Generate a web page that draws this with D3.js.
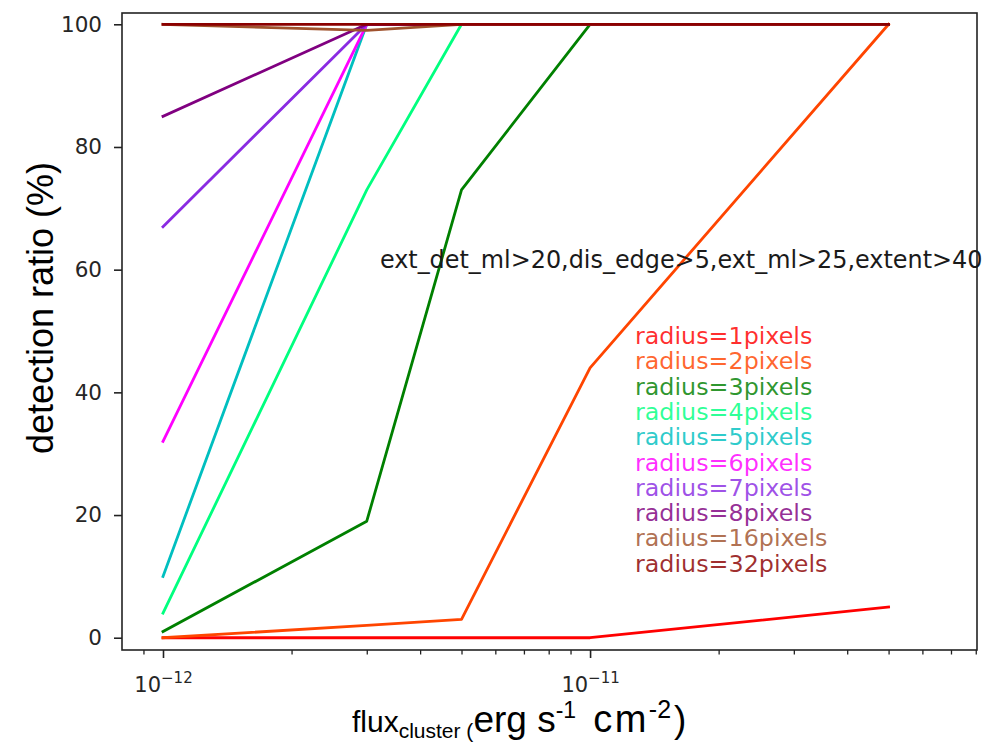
<!DOCTYPE html>
<html>
<head>
<meta charset="utf-8">
<script src="https://cdn.jsdelivr.net/npm/d3@7"></script>
<style>
  html, body { margin: 0; padding: 0; background: #fff; }
  svg { display: block; }
</style>
</head>
<body>
<svg id="chart" width="990" height="746"></svg>
<script>
// Cluster flux values (erg s^-1 cm^-2) at which detection was tested
const fluxValues = [1e-12, 3e-12, 5e-12, 1e-11, 5e-11];

// Detection ratio (%) for each extraction radius
const ratioR1  = [0, 0, 0, 0, 5];
const ratioR2  = [0, 2, 3, 44, 100];
const ratioR3  = [1, 19, 73, 100, 100];
const ratioR4  = [4, 73, 100, 100, 100];
const ratioR5  = [10, 100, 100, 100, 100];
const ratioR6  = [32, 100, 100, 100, 100];
const ratioR7  = [67, 100, 100, 100, 100];
const ratioR8  = [85, 100, 100, 100, 100];
const ratioR16 = [100, 99, 100, 100, 100];
const ratioR32 = [100, 100, 100, 100, 100];

const seriesLabels = ["radius=1pixels", "radius=2pixels", "radius=3pixels", "radius=4pixels",
  "radius=5pixels", "radius=6pixels", "radius=7pixels", "radius=8pixels",
  "radius=16pixels", "radius=32pixels"];
const seriesColors = ["#ff0000", "#ff4500", "#008000", "#00ff7f", "#00bfbf",
  "#ff00ff", "#8a2be2", "#800080", "#a0522d", "#8b0000"];

const yTickValues = [0, 20, 40, 60, 80, 100];
const xMajorTicks = [1e-12, 1e-11];
const xMajorExponents = ["\u221212", "\u221211"];
const annotationText = "ext_det_ml>20,dis_edge>5,ext_ml>25,extent>40";

const seriesValues = [ratioR1, ratioR2, ratioR3, ratioR4, ratioR5,
  ratioR6, ratioR7, ratioR8, ratioR16, ratioR32];

const series = seriesLabels.map((label, i) => ({
  label,
  color: seriesColors[i],
  points: fluxValues.map((f, j) => ({ flux: f, ratio: seriesValues[i][j] }))
}));

// Plot area
const plot = { left: 122, right: 977, top: 13, bottom: 650 };

const x = d3.scaleLog()
  .domain([Math.pow(10, -12.096), Math.pow(10, -10.094)])
  .range([plot.left, plot.right]);

const y = d3.scaleLinear()
  .domain([-2.0, 101.84])
  .range([plot.bottom, plot.top]);

const svg = d3.select("#chart");
const tickFont = "'DejaVu Sans', sans-serif";
const labelFont = "'Liberation Sans', Arial, sans-serif";

// Data lines
const line = d3.line().x(d => x(d.flux)).y(d => y(d.ratio));
svg.append("g").attr("class", "lines")
  .selectAll("path")
  .data(series)
  .join("path")
  .attr("d", d => line(d.points))
  .attr("fill", "none")
  .attr("stroke", d => d.color)
  .attr("stroke-width", 2.8)
  .attr("stroke-linejoin", "round")
  .attr("stroke-linecap", "square");

// Y axis
const yAxis = svg.append("g")
  .attr("transform", `translate(${plot.left},0)`)
  .call(d3.axisLeft(y).tickValues(yTickValues).tickSize(8).tickPadding(12));
yAxis.select(".domain").remove();
yAxis.selectAll(".tick line").attr("stroke", "#222").attr("stroke-width", 1.6);
yAxis.selectAll(".tick text")
  .attr("font-family", tickFont).attr("font-size", 21.5).attr("fill", "#262626");

// X axis: minor ticks
const xMinor = x.ticks().filter(v => {
  const e = Math.log10(v);
  return Math.abs(e - Math.round(e)) > 1e-6;
});
const xMinorAxis = svg.append("g")
  .attr("transform", `translate(0,${plot.bottom})`)
  .call(d3.axisBottom(x).tickValues(xMinor).tickSize(4.5).tickFormat(""));
xMinorAxis.select(".domain").remove();
xMinorAxis.selectAll(".tick line").attr("stroke", "#222").attr("stroke-width", 1.3);

// X axis: major ticks with power-of-ten labels
const xMajorAxis = svg.append("g")
  .attr("transform", `translate(0,${plot.bottom})`)
  .call(d3.axisBottom(x).tickValues(xMajorTicks).tickSize(8).tickFormat(""));
xMajorAxis.select(".domain").remove();
xMajorAxis.selectAll(".tick line").attr("stroke", "#222").attr("stroke-width", 1.6);
xMajorAxis.selectAll(".tick").each(function(d, i) {
  const t = d3.select(this).append("text")
    .attr("y", 42)
    .attr("text-anchor", "middle")
    .attr("font-family", tickFont)
    .attr("fill", "#262626");
  t.append("tspan").attr("font-size", 21).text("10");
  t.append("tspan").attr("font-size", 15).attr("dy", -9).text(xMajorExponents[i]);
});

// Frame
svg.append("rect")
  .attr("x", plot.left).attr("y", plot.top)
  .attr("width", plot.right - plot.left)
  .attr("height", plot.bottom - plot.top)
  .attr("fill", "none").attr("stroke", "#222").attr("stroke-width", 1.6);

// Selection criteria note
svg.append("text")
  .attr("x", x(3.22e-12)).attr("y", y(60.2))
  .attr("font-family", tickFont).attr("font-size", 23.9).attr("fill", "#1a1a1a")
  .text(annotationText);

// Legend text (coloured labels)
svg.append("g").attr("class", "legend")
  .selectAll("text")
  .data(series)
  .join("text")
  .attr("x", 635)
  .attr("y", (d, i) => 344 + i * 25.3)
  .attr("font-family", tickFont)
  .attr("font-size", 23.8)
  .attr("fill", d => d.color)
  .attr("fill-opacity", 0.82)
  .text(d => d.label);

// Y axis title
svg.append("text")
  .attr("transform", "translate(53,308) rotate(-90)")
  .attr("text-anchor", "middle")
  .attr("font-family", labelFont)
  .attr("font-size", 36)
  .attr("fill", "#000")
  .text("detection ratio (%)");

// X axis title with sub/superscripts
const xt = svg.append("text")
  .attr("x", 352).attr("y", 732)
  .attr("font-family", labelFont)
  .attr("fill", "#000");
xt.append("tspan").attr("font-size", 30).text("flux");
xt.append("tspan").attr("font-size", 21).attr("dy", 6).text("cluster (");
xt.append("tspan").attr("font-size", 37).attr("dy", -6).text("erg s");
xt.append("tspan").attr("font-size", 23).attr("dy", -14).text("-1");
xt.append("tspan").attr("font-size", 38).attr("dy", 14).attr("dx", 4)
  .attr("letter-spacing", 2.5).text(" cm");
xt.append("tspan").attr("font-size", 25).attr("dy", -14).attr("dx", 0)
  .attr("letter-spacing", 0).text("-2");
xt.append("tspan").attr("font-size", 37).attr("dy", 14).attr("dx", 3).text(")");
</script>
</body>
</html>
